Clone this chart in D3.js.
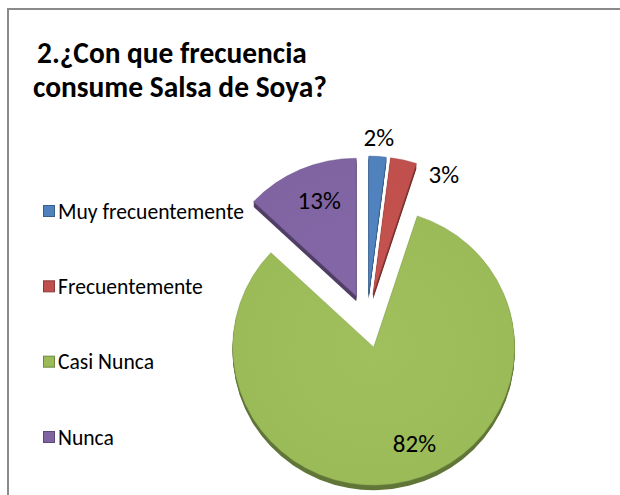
<!DOCTYPE html>
<html>
<head>
<meta charset="utf-8">
<script src="https://cdn.jsdelivr.net/npm/d3@7"></script>
<style>
  body { margin: 0; background: #fff; }
  svg { display: block; }
</style>
</head>
<body>
<svg id="chart" width="620" height="495"></svg>
<script>
// Survey answers and their shares (%)
const categories = ["Muy frecuentemente", "Frecuentemente", "Casi Nunca", "Nunca"];
const percentages = [2, 3, 82, 13];
const sliceColors = ["#4F81BD", "#C0504D", "#9BBB59", "#8064A2"];
const valueLabels = ["2%", "3%", "82%", "13%"];
const titleLines = ["2.¿Con que frecuencia", "consume Salsa de Soya?"];

const svg = d3.select("#chart");
const FONT = "Carlito, Calibri, Lato, 'Open Sans', sans-serif";

// chart frame (left and top edges visible in the viewport)
svg.append("path")
  .attr("d", "M8,495 L8,9 L620,9")
  .attr("fill", "none")
  .attr("stroke", "#8a8a8a")
  .attr("stroke-width", 2);

// shrink/grow a text node so it spans a given width
function fitWidth(node, target) {
  const fs = parseFloat(node.getAttribute("font-size"));
  const w = node.getComputedTextLength();
  node.setAttribute("font-size", (fs * target / w).toFixed(2));
}

// title
const titleSpec = [{ x: 37, y: 63, w: 270 }, { x: 33, y: 97, w: 294 }];
svg.append("g").selectAll("text")
  .data(titleLines)
  .join("text")
  .attr("x", (d, i) => titleSpec[i].x)
  .attr("y", (d, i) => titleSpec[i].y)
  .attr("font-family", FONT)
  .attr("font-weight", "bold")
  .attr("font-size", 24)
  .attr("fill", "#000")
  .text(d => d)
  .each(function (d, i) { fitWidth(this, titleSpec[i].w); });

// pie geometry
const cx = 367, cy = 321;
const rx = 141, ry = 138;
const explode = 27;
const depth = 5;

const pie = d3.pie().sort(null).value(d => d);
const arcs = pie(percentages);
const arc = d3.arc().innerRadius(0).outerRadius(rx);

const defs = svg.append("defs");
sliceColors.forEach((c, i) => {
  const g = defs.append("radialGradient")
    .attr("id", "grad" + i)
    .attr("gradientUnits", "userSpaceOnUse")
    .attr("cx", 0).attr("cy", 0).attr("r", rx);
  g.append("stop").attr("offset", "0%").attr("stop-color", d3.color(c).brighter(0.08));
  g.append("stop").attr("offset", "100%").attr("stop-color", c);
});

const slices = svg.append("g").selectAll("g.slice")
  .data(arcs)
  .join("g")
  .attr("class", "slice")
  .attr("transform", d => {
    const mid = (d.startAngle + d.endAngle) / 2;
    const dx = explode * Math.sin(mid);
    const dy = -explode * Math.cos(mid);
    return `translate(${cx + dx},${cy + dy})`;
  });

// extruded side walls
slices.each(function (d, i) {
  const g = d3.select(this);
  const side = d3.color(sliceColors[i]).darker(1.3);
  for (let k = depth; k >= 1; k--) {
    g.append("path")
      .attr("d", arc(d))
      .attr("transform", `translate(0,${k}) scale(1,${ry / rx})`)
      .attr("fill", side);
  }
});

// top faces
slices.append("path")
  .attr("d", d => arc(d))
  .attr("transform", `scale(1,${ry / rx})`)
  .attr("fill", (d, i) => `url(#grad${i})`)
  .attr("stroke", (d, i) => d3.color(sliceColors[i]).darker(0.6))
  .attr("stroke-width", 0.7)
  .attr("stroke-opacity", 0.6);

// value labels: angle offset (deg) from the slice middle and distance from the slice apex
const labelPlacement = [
  { turn: 0, dist: 160 },
  { turn: 17.4, dist: 142 },
  { turn: -8, dist: 107 },
  { turn: 2.7, dist: 105 }
];
slices.append("text")
  .attr("x", (d, i) => {
    const a = (d.startAngle + d.endAngle) / 2 + labelPlacement[i].turn * Math.PI / 180;
    return labelPlacement[i].dist * Math.sin(a);
  })
  .attr("y", (d, i) => {
    const a = (d.startAngle + d.endAngle) / 2 + labelPlacement[i].turn * Math.PI / 180;
    return -labelPlacement[i].dist * Math.cos(a) * ry / rx;
  })
  .attr("text-anchor", "middle")
  .attr("dominant-baseline", "central")
  .attr("font-family", FONT)
  .attr("font-size", 25)
  .attr("fill", "#000")
  .text((d, i) => valueLabels[i]);

// legend
const legendY = d3.scalePoint().domain(categories).range([211, 437]);
const legend = svg.append("g").selectAll("g")
  .data(categories)
  .join("g")
  .attr("transform", d => `translate(43,${legendY(d)})`);
legend.append("rect")
  .attr("x", 0.5).attr("y", -5.5)
  .attr("width", 11).attr("height", 11)
  .attr("fill", (d, i) => sliceColors[i])
  .attr("stroke", (d, i) => d3.color(sliceColors[i]).darker(0.9))
  .attr("stroke-width", 1);
legend.append("text")
  .attr("x", 15)
  .attr("y", 0)
  .attr("dominant-baseline", "central")
  .attr("font-family", FONT)
  .attr("font-size", 18)
  .attr("fill", "#000")
  .text(d => d)
  .each(function (d, i) { if (i === 0) fitWidth(this, 186); });
// the remaining legend entries share the fitted size
const legendSize = legend.select("text").filter((d, i) => i === 0).attr("font-size");
legend.selectAll("text").attr("font-size", legendSize);
</script>
</body>
</html>
